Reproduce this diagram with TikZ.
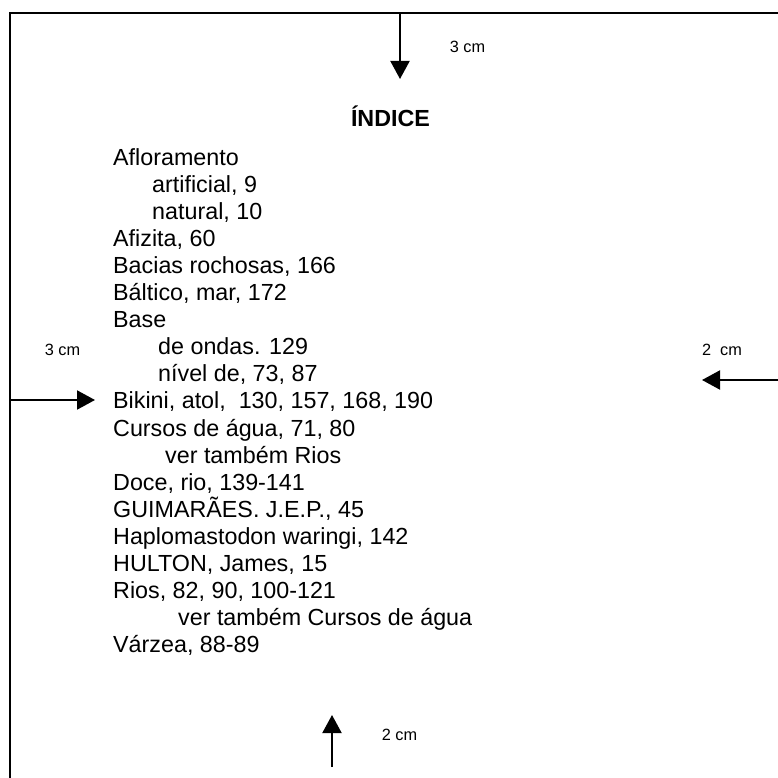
\documentclass[tikz,border=0pt]{standalone}
\usepackage{fontspec}
\setmainfont{Liberation Sans}
\usetikzlibrary{arrows.meta}
\newcommand{\entryfont}{\fontsize{23.3pt}{27pt}\selectfont}
\newcommand{\markfont}{\fontsize{16.3pt}{19pt}\selectfont}

\begin{document}
\begin{tikzpicture}[
  x=1pt, y=-1pt,
  >={Triangle[width=19pt,length=18pt]},
  entry/.style={anchor=base west, inner sep=0pt, font=\entryfont},
  margin/.style={anchor=base, inner sep=0pt, font=\markfont},
  frame/.style={line width=2pt},
  arrow/.style={->, line width=2pt}
]
  \useasboundingbox (0,0) rectangle (778,778);

  % Page edges
  \coordinate (topleft) at (10,12.7);
  \coordinate (topright) at (778,12.7);
  \coordinate (bottomleft) at (10,778);
  \draw[frame] (topright) -- (topleft) -- (bottomleft);

  % Heading
  \node[entry, anchor=base, font=\entryfont\bfseries] (title) at (390.5,127) {ÍNDICE};

  % Index entries, one per line
  \foreach \ind/\txt [count=\i from 0] in {
      0/{Afloramento}, 39/{artificial, 9}, 39/{natural, 10},
      0/{Afizita, 60}, 0/{Bacias rochosas, 166}, 0/{Báltico, mar, 172},
      0/{Base}, 45/{de ondas. 129}, 45/{nível de, 73, 87},
      0/{Bikini, atol,\ \ 130, 157, 168, 190}, 0/{Cursos de água, 71, 80},
      52/{ver também Rios}, 0/{Doce, rio, 139-141}, 0/{GUIMARÃES. J.E.P., 45},
      0/{Haplomastodon waringi, 142}, 0/{HULTON, James, 15},
      0/{Rios, 82, 90, 100-121}, 65/{ver também Cursos de água},
      0/{Várzea, 88-89}}
    \node[entry] (e\i) at (113+\ind, 165+27.1*\i) {\txt};

  % Margin arrows
  \coordinate (topfoot) at (400,12.7);
  \coordinate (toptip) at (400,79);
  \draw[arrow] (topfoot) -- (toptip);
  \node[margin] (topmark) at (467.5,53) {3 cm};

  \coordinate (leftfoot) at (10,400);
  \coordinate (lefttip) at (95,400);
  \draw[arrow] (leftfoot) -- (lefttip);
  \node[margin] (leftmark) at (62.5,355) {3 cm};

  \coordinate (rightfoot) at (778,380);
  \coordinate (righttip) at (702,380);
  \draw[arrow] (rightfoot) -- (righttip);
  \node[margin] (rightmark) at (722,355) {2\ \ cm};

  \coordinate (bottomfoot) at (332,767);
  \coordinate (bottomtip) at (332,715);
  \draw[arrow] (bottomfoot) -- (bottomtip);
  \node[margin] (bottommark) at (399.5,740) {2 cm};
\end{tikzpicture}
\end{document}
